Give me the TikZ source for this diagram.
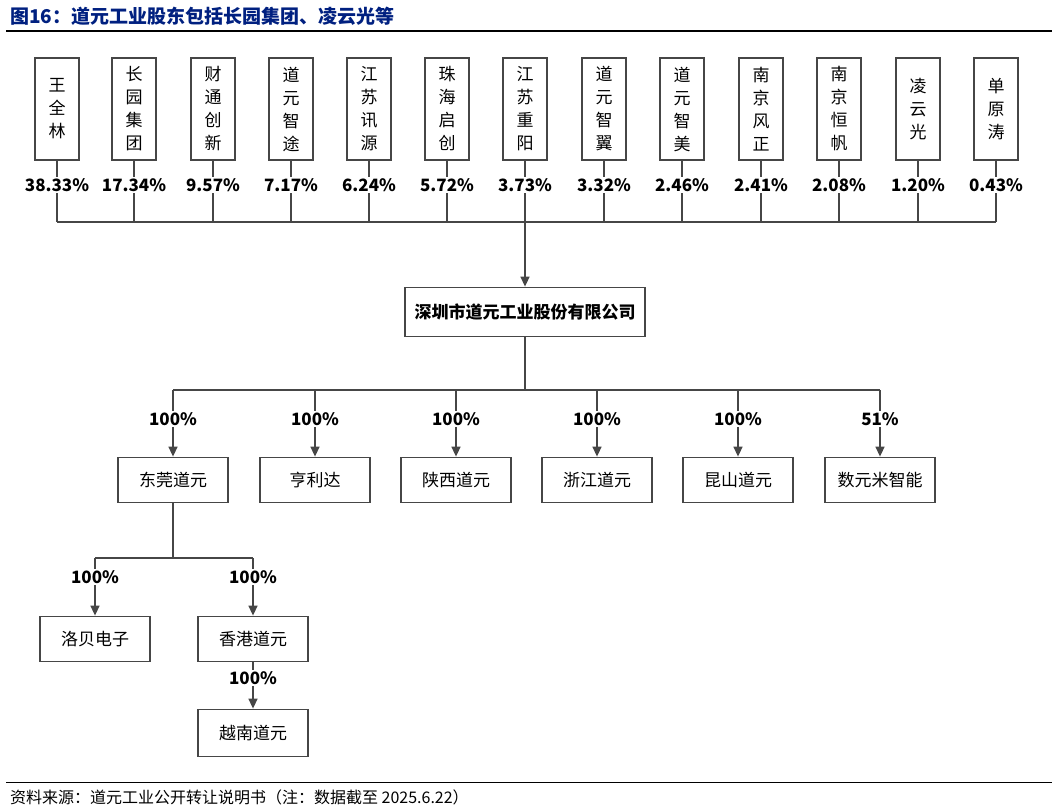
\documentclass[tikz,border=0pt]{standalone}
\usepackage{fontspec}
\setmainfont{Noto Sans CJK SC}
\usetikzlibrary{positioning, arrows.meta}
\definecolor{titleblue}{RGB}{0,32,128}
\definecolor{linegray}{RGB}{70,70,70}
\begin{document}
\begin{tikzpicture}[x=1pt, y=-1pt, line width=1.5pt, draw=linegray,
  top/.style = {draw, line width=1.8pt, minimum width=44pt, minimum height=102pt, inner sep=0pt, font=\fontsize{17}{23}\selectfont, align=center},
  sub/.style = {draw, line width=1.8pt, minimum width=110pt, minimum height=45pt, font=\fontsize{17}{20}\selectfont},
  pct/.style = {fill=white, inner sep=1pt, font=\fontsize{17}{20}\bfseries\selectfont},
  arr/.style = {-{Triangle[length=10pt, width=9pt]}}]
  \useasboundingbox (0,0) rectangle (1057,811);
  \node[anchor=west, text=titleblue, font=\fontsize{19}{22}\bfseries\selectfont] (title) at (6,16) {图16：道元工业股东包括长园集团、凌云光等};
  \draw[black, line width=1.2pt] (6,31) -- (1052,31);

  % shareholders
  \foreach \i/\x/\name/\p in {1/57/王\\全\\林/38.33\%, 2/134/长\\园\\集\\团/17.34\%, 3/213/财\\通\\创\\新/9.57\%,
    4/291/道\\元\\智\\途/7.17\%, 5/369/江\\苏\\讯\\源/6.24\%, 6/447/珠\\海\\启\\创/5.72\%, 7/525/江\\苏\\重\\阳/3.73\%,
    8/604/道\\元\\智\\翼/3.32\%, 9/682/道\\元\\智\\美/2.46\%, 10/761/南\\京\\风\\正/2.41\%, 11/839/南\\京\\恒\\帆/2.08\%,
    12/918/凌\\云\\光/1.20\%, 13/996/单\\原\\涛/0.43\%} {
    \node[top] (s\i) at (\x,109) {\name};
    \coordinate (b\i) at (\x,222);
    \draw (s\i) -- (b\i);
    \node[pct] (p\i) at (\x,185) {\p};
  }
  \draw (b1) -- (b13);

  \node[draw, line width=1.8pt, minimum width=240pt, minimum height=49pt, font=\fontsize{17}{20}\bfseries\selectfont] (daoyuan) at (525,312) {深圳市道元工业股份有限公司};
  \draw[arr] (b7) -- (daoyuan);

  % subsidiaries
  \coordinate (hub) at (525,390);
  \draw (daoyuan) -- (hub);
  \foreach \i/\x/\name/\p in {1/173/东莞道元/100\%, 2/315/亨利达/100\%, 3/456/陕西道元/100\%,
    4/597/浙江道元/100\%, 5/738/昆山道元/100\%, 6/880/数元米智能/51\%} {
    \node[sub] (c\i) at (\x,480) {\name};
    \coordinate (t\i) at (\x,390);
    \draw[arr] (t\i) -- (c\i);
    \node[pct] (q\i) at (\x,419) {\p};
  }
  \draw (t1) -- (t6);

  \node[sub] (luobei) at (95,639) {洛贝电子};
  \node[sub] (hk) at (253,639) {香港道元};
  \node[sub, minimum height=47pt] (vn) at (253,733) {越南道元};
  \coordinate (h0) at (173,558);
  \coordinate (h1) at (95,558);
  \coordinate (h2) at (253,558);
  \draw (c1) -- (h0);
  \draw (h1) -- (h2);
  \draw[arr] (h1) -- (luobei);
  \draw[arr] (h2) -- (hk);
  \draw[arr] (hk) -- (vn);
  \node[pct] (r1) at (95,577) {100\%};
  \node[pct] (r2) at (253,577) {100\%};
  \node[pct] (r3) at (253,678) {100\%};

  \draw[black, line width=1pt] (6,782) -- (1052,782);
  \node[anchor=west, font=\fontsize{16}{18}\selectfont] (src) at (6,797) {资料来源：道元工业公开转让说明书（注：数据截至 2025.6.22）};
\end{tikzpicture}
\end{document}
